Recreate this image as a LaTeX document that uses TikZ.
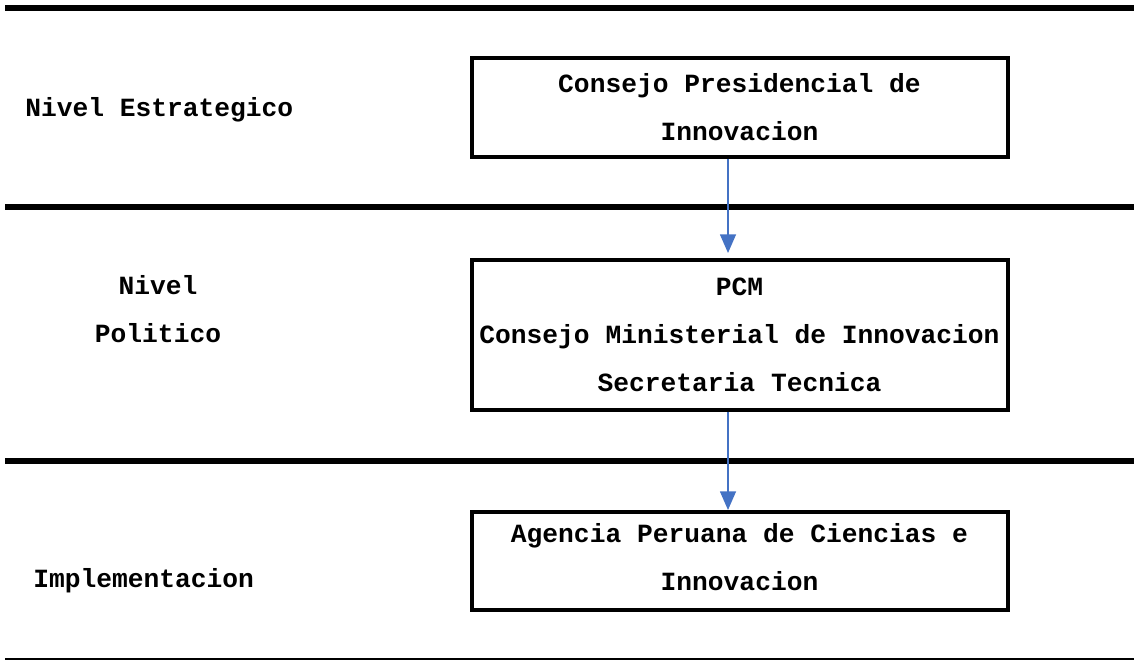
\documentclass[tikz,border=0pt]{standalone}
\usepackage{fontspec}
\setmonofont{Liberation Mono}
\usetikzlibrary{arrows.meta}
\definecolor{arrowblue}{HTML}{4472C4}
\begin{document}
\begin{tikzpicture}[x=0.75pt,y=-0.75pt,
  txt/.style={font=\ttfamily\bfseries\fontsize{19.7}{36}\selectfont, align=center, inner sep=0pt},
  levelbox/.style={draw=black, line width=3pt, minimum width=536*0.75pt, inner sep=0pt, txt},
  sep/.style={line width=3.8pt},
  conn/.style={draw=arrowblue, line width=1pt, -{Triangle[length=14pt,width=12pt]}}]
\useasboundingbox (0,0) rectangle (1134,661);
% separators
\coordinate (l1a) at (5,8); \coordinate (l1b) at (1134,8);
\coordinate (l2a) at (5,207); \coordinate (l2b) at (1134,207);
\coordinate (l3a) at (5,461); \coordinate (l3b) at (1134,461);
\coordinate (l4a) at (5,659); \coordinate (l4b) at (1134,659);
\draw[sep] (l1a) -- (l1b);
\draw[sep] (l2a) -- (l2b);
\draw[sep] (l3a) -- (l3b);
\draw[line width=1.5pt] (l4a) -- (l4b);
% boxes
\node[levelbox, minimum height=99*0.75pt] (b1) at (739.5,107.5) {Consejo Presidencial de\\Innovacion};
\node[levelbox, minimum height=150*0.75pt] (b2) at (739.5,334.5) {PCM\\Consejo Ministerial de Innovacion\\Secretaria Tecnica};
\node[levelbox, minimum height=98*0.75pt] (b3) at (739.5,561) {};
\node[txt] (b3t) at (739.5,557) {Agencia Peruana de Ciencias e\\Innovacion};
% labels
\node[txt, anchor=west] (n1) at (25,110) {Nivel Estrategico};
\node[txt] (n2) at (158,309) {Nivel\\Politico};
\node[txt, anchor=west] (n3) at (33,581) {Implementacion};
% connectors
\coordinate (a1s) at (728,157);
\coordinate (a1e) at (728,253);
\coordinate (a2s) at (728,410);
\coordinate (a2e) at (728,510);
\draw[conn] (b1.south -| a1s) -- (a1e);
\draw[conn] (b2.south -| a2s) -- (a2e);
\end{tikzpicture}
\end{document}
